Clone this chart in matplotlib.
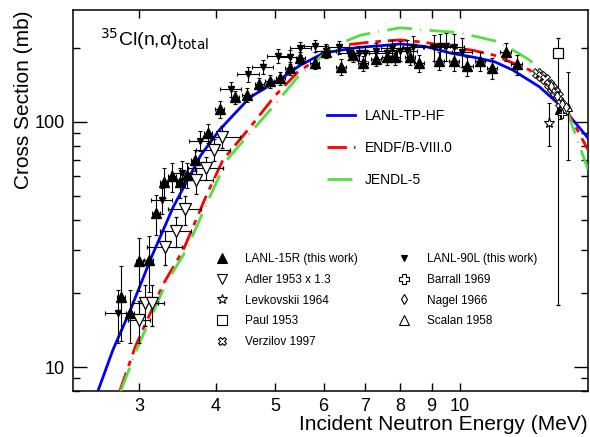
import matplotlib
matplotlib.use("Agg")
import matplotlib.pyplot as plt
from matplotlib.ticker import FixedLocator, NullFormatter, FixedFormatter
from matplotlib.lines import Line2D

plt.rcParams['font.family'] = ['Liberation Sans', 'DejaVu Sans']

# evaluated / model curves (E in MeV, sigma in mb)
tphf_E = [2.57, 2.72, 2.90, 3.14, 3.41, 3.78, 4.06, 4.55, 5.15, 5.49, 6.0, 6.8, 7.68, 8.0, 8.8, 9.66, 10.5, 11.4, 12.2, 13.5, 14.7, 16.2]
tphf_s = [8.0, 11.8, 17.0, 28, 45, 73, 93, 126, 152, 170, 191, 201, 206, 208, 203, 191, 184, 176, 163, 139, 115, 86]

endf_E = [2.79, 2.96, 3.29, 3.54, 3.86, 4.11, 4.55, 5.0, 5.45, 6.07, 6.5, 7.2, 8.0, 8.8, 9.66, 10.5, 11.4, 13.0, 14.55, 16.2]
endf_s = [8.0, 12.2, 22, 30, 50, 70, 95, 128, 160, 191, 206, 212, 216, 211, 202, 196, 187, 163, 127, 77]

jendl_E = [2.80, 2.98, 3.32, 3.58, 3.92, 4.17, 4.55, 5.0, 5.45, 6.2, 6.9, 8.0, 8.8, 10.0, 11.6, 13.0, 14.55, 16.2]
jendl_s = [8.0, 12.0, 22, 30, 50, 70, 90, 118, 153, 203, 226, 242, 237, 231, 212, 179, 135, 64]

# LANL-15R (this work)
l15_E = [2.80, 2.90, 3.00, 3.11, 3.20, 3.29, 3.40, 3.50, 3.59, 3.70, 3.89, 4.06, 4.30, 4.50, 4.71, 4.90, 5.10, 5.28,
         5.50, 5.80, 6.05, 6.40, 6.70, 6.95, 7.30, 7.60, 7.85, 8.30, 8.60, 9.25, 9.80, 10.3, 10.8, 11.3, 11.9, 12.4, 14.6]
l15_s = [19.3, 16.6, 27.0, 27.3, 42.5, 57, 60, 57, 61, 70, 90, 113, 126, 129, 143, 147, 151, 166,
         182, 174, 193, 168, 188, 174, 181, 184, 184, 184, 174, 178, 177, 169, 177, 166, 193, 172, 113]
l15_dE = [0.04, 0.04, 0.04, 0.05, 0.05, 0.05, 0.05, 0.05, 0.06, 0.06, 0.06, 0.07, 0.07, 0.08, 0.08, 0.08, 0.09, 0.09,
          0.1, 0.1, 0.1, 0.12, 0.12, 0.13, 0.13, 0.14, 0.15, 0.15, 0.16, 0.18, 0.19, 0.2, 0.21, 0.22, 0.24, 0.25, 0.2]
l15_ds = [6.5, 4.0, 6.5, 7, 8, 8, 8, 8, 7, 7, 8, 9, 8, 8, 8, 9, 9, 10,
          10, 10, 11, 12, 12, 12, 12, 13, 13, 14, 14, 15, 15, 15, 16, 16, 16, 16, 10]

# LANL-90L (this work)
l90_E = [2.77, 3.27, 3.52, 3.77, 4.23, 4.52, 4.78, 5.05, 5.28, 5.5, 5.8, 6.05, 6.35, 6.6, 6.85, 7.0, 7.3, 7.6,
         7.75, 8.0, 8.2, 8.4, 9.1, 9.3, 9.5, 9.8, 10.1]
l90_s = [16.6, 48, 62, 84, 136, 157, 168, 186, 184, 200, 204, 195, 202, 191, 191, 191, 195, 191,
         200, 195, 195, 202, 202, 204, 204, 202, 193]
l90_dE = [0.13, 0.13, 0.14, 0.15, 0.17, 0.18, 0.19, 0.2, 0.21, 0.22, 0.23, 0.24, 0.25, 0.26, 0.27, 0.28, 0.29, 0.3,
          0.3, 0.31, 0.32, 0.33, 0.35, 0.36, 0.37, 0.38, 0.39]
l90_ds = [4, 6, 7, 8, 10, 11, 11, 12, 12, 12, 12, 12, 12, 12, 13, 13, 14, 15,
          16, 18, 20, 22, 25, 25, 26, 26, 26]

# Adler 1953 x 1.3
adl_E = [3.00, 3.07, 3.15, 3.31, 3.44, 3.56, 3.71, 3.86, 3.97, 4.10]
adl_s = [15.6, 18.2, 18.2, 31, 36, 44, 58, 65, 77, 87]
adl_dE = [0.12, 0.15, 0.15, 0.22, 0.2, 0.22, 0.25, 0.25, 0.25, 0.28]
adl_ds = [3, 3.5, 3.5, 5, 5, 6, 7, 7, 8, 9]

# 14 MeV data sets
lev_E, lev_s, lev_ds = [14.0], [99], [[19], [20]]
paul_E, paul_s, paul_ds = [14.5], [191], [[173], [29]]
verz_E = [13.4, 13.6, 13.8, 14.0, 14.15, 14.3, 14.45, 14.6, 14.8]
verz_s = [158, 154, 149, 143, 138, 133, 127, 120, 112]
barr_E, barr_s = [14.7], [108]
nag_E = [14.1, 14.4, 14.7, 14.9]
nag_s = [140, 128, 118, 115]
scal_E, scal_s, scal_ds = [15.0], [115], [45]

fig = plt.figure(figsize=(5.9, 4.37), dpi=100)
ax = fig.add_axes([0.1237, 0.1053, 0.8729, 0.8718])
ax.set_xscale('log')
ax.set_yscale('log')
ax.set_xlim(2.34, 16.2)
ax.set_ylim(8.0, 286)

l1, = ax.plot(tphf_E, tphf_s, color='#0000ff', lw=2.0, label='LANL-TP-HF', zorder=3)
l2, = ax.plot(endf_E, endf_s, color='#ff0000', lw=2.0, dashes=(7, 2.5, 2, 2.5), label='ENDF/B-VIII.0', zorder=3)
l3, = ax.plot(jendl_E, jendl_s, color='#55dd44', lw=2.0, dashes=(9, 3, 0.3, 3), label='JENDL-5', zorder=3)

eb = dict(ecolor='black', elinewidth=0.8, capsize=1.2, capthick=0.8, ls='none', zorder=4)
ax.errorbar(l15_E, l15_s, xerr=l15_dE, yerr=l15_ds, fmt='^', color='black', ms=6.5, **eb)
ax.errorbar(l90_E, l90_s, xerr=l90_dE, yerr=l90_ds, fmt='v', color='black', ms=4.5, **eb)
ax.errorbar(adl_E, adl_s, xerr=adl_dE, yerr=adl_ds, fmt='v', mfc='white', mec='black', ms=8, mew=0.9, **eb)
ax.errorbar(lev_E, lev_s, yerr=lev_ds, fmt='*', mfc='white', mec='black', ms=8, mew=0.8, **eb)
ax.errorbar(paul_E, paul_s, yerr=paul_ds, fmt='s', mfc='white', mec='black', ms=7, mew=0.9, **eb)
ax.plot(verz_E, verz_s, 'X', mfc='white', mec='black', ms=6.5, mew=0.7, ls='none', zorder=5)
ax.plot(barr_E, barr_s, 'P', mfc='white', mec='black', ms=6, mew=0.7, ls='none', zorder=5)
ax.plot(nag_E, nag_s, 'd', mfc='white', mec='black', ms=5, mew=0.7, ls='none', zorder=5)
ax.errorbar(scal_E, scal_s, yerr=scal_ds, fmt='^', mfc='white', mec='black', ms=6, mew=0.8, **eb)

# legend proxies (markers only, as in the original)
def proxy(marker, label, filled=False, ms=6):
    return Line2D([], [], ls='none', marker=marker, ms=ms, mec='black', mew=0.8,
                  mfc='black' if filled else 'white', label=label)

h15 = proxy('^', 'LANL-15R (this work)', True, 6.5)
h90 = proxy('v', 'LANL-90L (this work)', True, 4.5)
hadl = proxy('v', 'Adler 1953 x 1.3', ms=7)
hlev = proxy('*', 'Levkovskii 1964', ms=7)
hpaul = proxy('s', 'Paul 1953', ms=6.5)
hverz = proxy('X', 'Verzilov 1997', ms=6)
hbarr = proxy('P', 'Barrall 1969', ms=6.5)
hnag = proxy('d', 'Nagel 1966', ms=5.5)
hscal = proxy('^', 'Scalan 1958', ms=7)

# axes styling, ROOT-like inward ticks on all sides
ax.xaxis.set_major_locator(FixedLocator([3, 4, 5, 6, 7, 8, 9, 10]))
ax.xaxis.set_major_formatter(FixedFormatter(['3', '4', '5', '6', '7', '8', '9', '10']))
ax.xaxis.set_minor_locator(FixedLocator([]))
ax.yaxis.set_major_locator(FixedLocator([10, 100]))
ax.yaxis.set_major_formatter(FixedFormatter(['10', '100']))
ax.yaxis.set_minor_locator(FixedLocator([8, 9, 20, 30, 40, 50, 60, 70, 80, 90, 200]))
ax.yaxis.set_minor_formatter(NullFormatter())
ax.tick_params(which='both', direction='in', top=True, right=True, width=1.0)
ax.tick_params(axis='x', which='major', length=6, labelsize=13, pad=5)
ax.tick_params(axis='y', which='major', length=10, labelsize=13, pad=6)
ax.tick_params(axis='y', which='minor', length=5)
for s in ax.spines.values():
    s.set_linewidth(1.1)

ax.set_xlabel('Incident Neutron Energy (MeV)', fontsize=15, loc='right')
ax.xaxis.set_label_coords(1.0, -0.062)
ax.set_ylabel('Cross Section (mb)', fontsize=15, loc='top')
ax.yaxis.set_label_coords(-0.077, 1.0)

ax.text(0.052, 0.925, '$^{35}$Cl(n,α)$_{\\rm total}$', transform=ax.transAxes, fontsize=14, va='center')

leg1 = ax.legend(handles=[l1, l2, l3], loc='upper left', bbox_to_anchor=(0.493, 0.74), frameon=False,
                 fontsize=10, handlelength=2.0, handletextpad=0.75, labelspacing=1.3, borderpad=0, borderaxespad=0)
ax.add_artist(leg1)
leg2 = ax.legend(handles=[h15, hadl, hlev, hpaul, hverz], loc='upper left', bbox_to_anchor=(0.278, 0.362),
                 frameon=False, fontsize=8.5, handlelength=1.0, handletextpad=1.45, labelspacing=0.74,
                 borderpad=0, borderaxespad=0)
ax.add_artist(leg2)
ax.legend(handles=[h90, hbarr, hnag, hscal], loc='upper left', bbox_to_anchor=(0.631, 0.362),
          frameon=False, fontsize=8.5, handlelength=1.0, handletextpad=1.45, labelspacing=0.74,
          borderpad=0, borderaxespad=0)

fig.savefig('out.png', dpi=100)
